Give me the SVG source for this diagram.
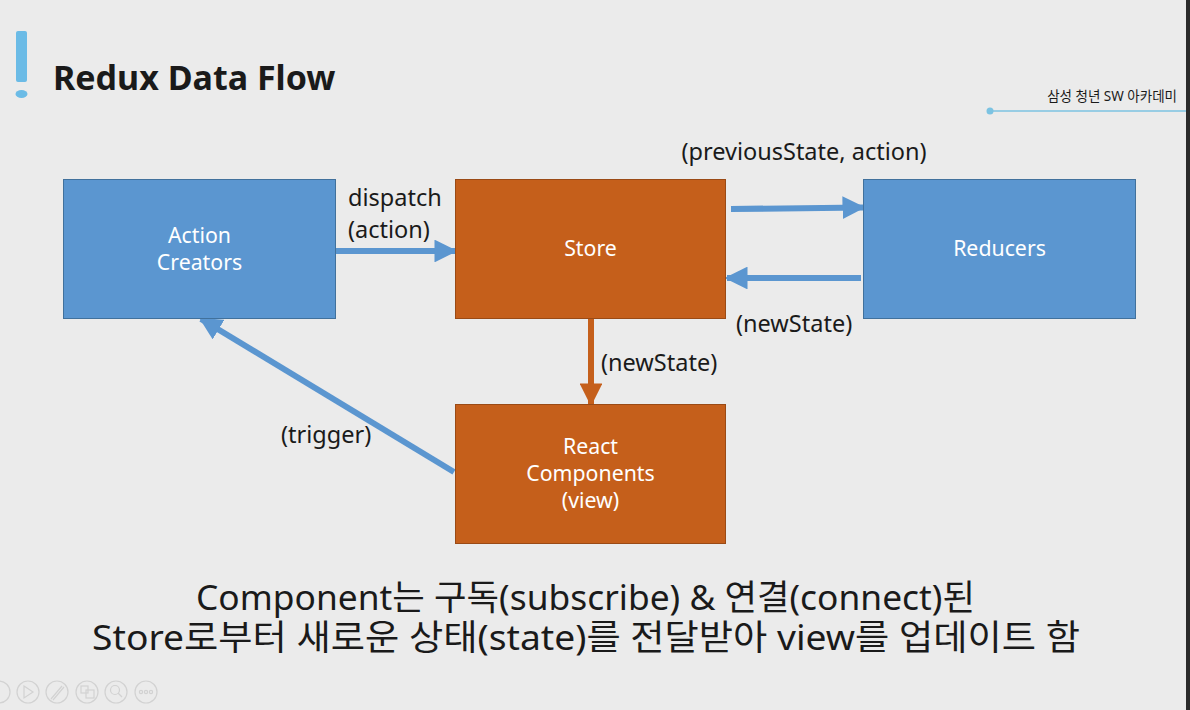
<svg xmlns="http://www.w3.org/2000/svg" width="1190" height="710" viewBox="0 0 1190 710">
  <style>
    .txt { font-family: "Noto Sans", "Noto Sans CJK KR", sans-serif; fill: #1a1a1a; }
    .box-blue { fill: #5b96d0; stroke: #41719c; stroke-width: 1; }
    .box-orange { fill: #c55f1b; stroke: #9a4a15; stroke-width: 1; }
    .box-label { font-family: "Noto Sans", "Noto Sans CJK KR", sans-serif; font-size: 21.3px; fill: #ffffff; text-anchor: middle; }
    .edge-label { font-family: "Noto Sans", "Noto Sans CJK KR", sans-serif; font-size: 23.5px; fill: #1a1a1a; }
    .conn-blue { stroke: #5b96d0; stroke-width: 6; fill: none; }
    .conn-orange { stroke: #c55f1b; stroke-width: 6; fill: none; }
    .tool { fill: none; stroke: #d2d2d2; stroke-width: 1.2; }
  </style>
  <defs>
    <marker id="headBlue" viewBox="0 0 10 10" refX="9" refY="5" markerWidth="3.8" markerHeight="3.8" orient="auto" markerUnits="strokeWidth">
      <path d="M0,0 L10,5 L0,10 Z" fill="#5b96d0"/>
    </marker>
    <marker id="headOrange" viewBox="0 0 10 10" refX="9" refY="5" markerWidth="3.8" markerHeight="3.8" orient="auto" markerUnits="strokeWidth">
      <path d="M0,0 L10,5 L0,10 Z" fill="#c55f1b"/>
    </marker>
  </defs>

  <!-- slide background -->
  <rect x="0" y="0" width="1190" height="710" fill="#ebebeb"/>
  <rect x="1186" y="0" width="4" height="710" fill="#2b2b2b"/>

  <!-- title -->
  <g id="title">
    <rect x="16" y="31" width="11" height="51" rx="2" fill="#6bbbe6"/>
    <ellipse cx="21.5" cy="94" rx="6" ry="4" fill="#6bbbe6"/>
    <text x="53" y="90" class="txt" font-size="34" font-weight="bold">Redux Data Flow</text>
  </g>

  <!-- header tag -->
  <g id="header-tag">
    <text x="1177" y="101" class="txt" font-size="13.5" text-anchor="end" fill="#333">삼성 청년 SW 아카데미</text>
    <line x1="990" y1="111" x2="1186" y2="111" stroke="#7cc3e2" stroke-width="1.5"/>
    <circle cx="990" cy="111" r="3.5" fill="#7cc3e2"/>
  </g>

  <!-- connectors -->
  <g id="connectors">
    <line class="conn-blue" x1="336" y1="251" x2="455" y2="251" marker-end="url(#headBlue)"/>
    <line class="conn-blue" x1="731" y1="209" x2="863" y2="207.5" marker-end="url(#headBlue)"/>
    <line class="conn-blue" x1="861" y1="278" x2="727" y2="278" marker-end="url(#headBlue)"/>
    <line class="conn-orange" x1="591" y1="318" x2="591" y2="404" marker-end="url(#headOrange)"/>
    <line class="conn-blue" x1="454" y1="472" x2="201" y2="319" marker-end="url(#headBlue)"/>

    <text x="348" y="206" class="edge-label">dispatch</text>
    <text x="348" y="238" class="edge-label">(action)</text>
    <text x="804" y="160" class="edge-label" text-anchor="middle">(previousState, action)</text>
    <text x="736" y="332" class="edge-label">(newState)</text>
    <text x="601" y="371" class="edge-label">(newState)</text>
    <text x="281" y="443" class="edge-label">(trigger)</text>
  </g>

  <!-- nodes -->
  <g id="action-creators">
    <rect class="box-blue" x="63.5" y="179.5" width="272" height="139"/>
    <text class="box-label" x="199.5" y="243">Action</text>
    <text class="box-label" x="199.5" y="270">Creators</text>
  </g>
  <g id="store">
    <rect class="box-orange" x="455.5" y="179.5" width="270" height="139"/>
    <text class="box-label" x="590.5" y="256">Store</text>
  </g>
  <g id="reducers">
    <rect class="box-blue" x="863.5" y="179.5" width="272" height="139"/>
    <text class="box-label" x="999.5" y="256">Reducers</text>
  </g>
  <g id="react-components">
    <rect class="box-orange" x="455.5" y="404.5" width="270" height="139"/>
    <text class="box-label" x="590.5" y="454">React</text>
    <text class="box-label" x="590.5" y="481">Components</text>
    <text class="box-label" x="590.5" y="508">(view)</text>
  </g>

  <!-- caption -->
  <g id="caption">
    <text x="196" y="610" class="txt" font-size="35" textLength="779" lengthAdjust="spacingAndGlyphs">Component는 구독(subscribe) &amp; 연결(connect)된</text>
    <text x="92" y="650" class="txt" font-size="35" textLength="988" lengthAdjust="spacingAndGlyphs">Store로부터 새로운 상태(state)를 전달받아 view를 업데이트 함</text>
  </g>

  <!-- slideshow toolbar -->
  <g id="toolbar">
    <circle class="tool" cx="-1" cy="692" r="11"/>
    <circle class="tool" cx="28" cy="692" r="11"/>
    <path class="tool" d="M24,686 L33,692 L24,698 Z"/>
    <circle class="tool" cx="57" cy="692" r="11"/>
    <path class="tool" d="M51,699 L62,686 M53,700 L64,687"/>
    <circle class="tool" cx="87" cy="692" r="11"/>
    <rect class="tool" x="81" y="686" width="7" height="7"/>
    <rect class="tool" x="86" y="690" width="8" height="8"/>
    <circle class="tool" cx="116" cy="692" r="11"/>
    <circle class="tool" cx="115" cy="690" r="4.5"/>
    <line class="tool" x1="118" y1="693" x2="122" y2="697" stroke-width="2"/>
    <circle class="tool" cx="146" cy="692" r="11"/>
    <circle class="tool" cx="141" cy="692" r="1.6"/>
    <circle class="tool" cx="146" cy="692" r="1.6"/>
    <circle class="tool" cx="151" cy="692" r="1.6"/>
  </g>
</svg>
